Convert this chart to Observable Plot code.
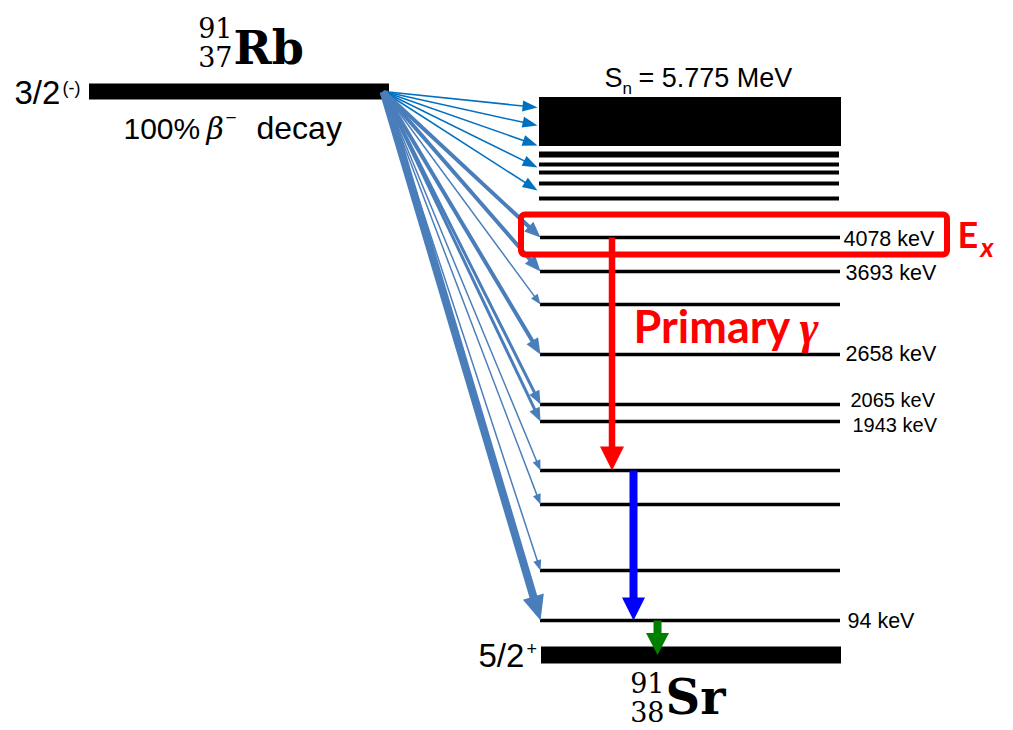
<!DOCTYPE html>
<html><head><meta charset="utf-8">
<script src="https://cdn.jsdelivr.net/npm/d3@7"></script>
<script src="https://cdn.jsdelivr.net/npm/@observablehq/plot@0.6"></script>
<style>html,body{margin:0;padding:0;background:#fff;overflow:hidden}</style>
</head><body><div id="chart"></div>
<script>
// ---------------- data ----------------
const parentA = "91", parentZ = "37", parentSymbol = "Rb", parentSpin = "3/2", parentParity = "(-)";
const daughterA = "91", daughterZ = "38", daughterSymbol = "Sr", daughterSpin = "5/2", daughterParity = "+";
const decayText = ["100%", "β", "−", "decay"];
const qValue = 5907;          // keV, parent level
const snEnergy = 5775;        // keV, neutron separation energy
const snText = ["S", "n", "= 5.775 MeV"];
const continuumLow = 5181;    // keV, bottom of dense block
const upperLevels = [5084, 4963, 4866, 4733, 4551];
const levels = [4078, 3693, 3281, 2658, 2065, 1943, 1488, 1172, 559, 94];
const labelledLevels = [4078, 3693, 2658, 2065, 1943, 94];
const levelLabels = ["4078 keV", "3693 keV", "2658 keV", "2065 keV", "1943 keV", "94 keV"];
const feedTargets = [5654, 5436, 5194, 4927, 4648, 4078, 3693, 3281, 2658, 2065, 1943, 1488, 1172, 559, 94];
const feedIntensity = [1.5, 1.5, 1.5, 1.5, 1.5, 4, 4, 1.5, 4, 3, 3, 1.5, 1.5, 1.5, 8];
const cascadeFrom = [4078, 1488, 94];
const cascadeTo = [1488, 94, 0];
const cascadeColor = ["#ff0000", "#0000ff", "#008000"];
const exLevel = 4078;
const exText = ["E", "x"];
const primaryText = ["Primary", "γ"];

// ---------------- layout (schematic) ----------------
const W = 1013, H = 730;
const yDomain = [0, 94, 1943, 2065, 2658, 3693, 4078, snEnergy, qValue];
const yRange = [654.5, 620, 421, 404, 354, 271, 237, 97, 91];
const xScale = d3.scaleLinear().domain([0, W]).range([0, W]);
const yScale = d3.scaleLinear().domain(yDomain).range(yRange);
const L = {parentX1: 89, parentX2: 389, levelX1: 540, levelX2: 840, feedX0: 383, labelX: 845,
  cascadeX: [611.5, 633, 657], cascadeW: [6.5, 8, 8], cascadeHead: [[24, 24], [23, 23], [22, 23]]};
const labelDx = {4078: -2, 3693: 0, 2658: 0, 2065: 5, 1943: 7, 94: 2};
const labelDy = {4078: 2, 3693: 2, 2658: 0, 2065: -4, 1943: 4, 94: 1};
const labelSize = {2065: 20, 1943: 20};

function headMarker(len, wid, back) {
  return (color) => {
    const ns = "http://www.w3.org/2000/svg";
    const m = document.createElementNS(ns, "marker");
    m.setAttribute("viewBox", `${back - len} ${-wid / 2} ${len} ${wid}`);
    m.setAttribute("markerUnits", "userSpaceOnUse");
    m.setAttribute("markerWidth", len);
    m.setAttribute("markerHeight", wid);
    m.setAttribute("refX", 0);
    m.setAttribute("refY", 0);
    m.setAttribute("orient", "auto");
    m.setAttribute("overflow", "visible");
    const p = document.createElementNS(ns, "path");
    p.setAttribute("d", `M${back},0L${back - len},${-wid / 2}L${back - len},${wid / 2}Z`);
    p.setAttribute("fill", color);
    p.setAttribute("stroke", "none");
    m.appendChild(p);
    return m;
  };
}
function arrowGeom(x1, e1, x2, e2, back) {
  const ax = xScale(x1), ay = yScale(e1), bx = xScale(x2), by = yScale(e2);
  const dx = bx - ax, dy = by - ay, len = Math.hypot(dx, dy);
  return {x1, y1: e1, x2: xScale.invert(bx - dx / len * back), y2: yScale.invert(by - dy / len * back)};
}
function arrowMark(x1, e1, x2, e2, w, color, len, wid) {
  const back = len * 0.5;
  return Plot.link([arrowGeom(x1, e1, x2, e2, back)], {
    x1: "x1", y1: "y1", x2: "x2", y2: "y2", stroke: color, strokeWidth: w,
    strokeLinecap: "butt", markerEnd: headMarker(len, wid, back)
  });
}

// β feeding arrows
const feedMarks = feedTargets.map((E, i) => {
  const w = feedIntensity[i];
  const upper = i < 5;
  const color = upper ? "#0070c0" : "#4a7ebb";
  const len = upper ? 15 : 7 + 2.25 * w;
  const wid = upper ? 11 : 5 + 2.1 * w;
  return arrowMark(L.feedX0, qValue, upper ? L.levelX1 - 3 : L.levelX1, E, w, color, len, wid);
});
// γ cascade
const cascadeMarks = cascadeFrom.map((E, i) =>
  arrowMark(L.cascadeX[i], E, L.cascadeX[i], cascadeTo[i], L.cascadeW[i], cascadeColor[i],
    L.cascadeHead[i][0], L.cascadeHead[i][1]));

const sans = "Liberation Sans, Arial, Helvetica, sans-serif";
const serif = "DejaVu Serif, serif";
const callibri = "Lato, Carlito, Calibri, sans-serif";
const txt = (s, o) => Plot.text([s], {text: (d) => d, lineAnchor: "bottom", textAnchor: "start", fill: "black", ...o});

// level labels (one mark each so each can carry its own offset)
const labelMarks = labelledLevels.map((E, i) =>
  Plot.text([E], {x: L.labelX, y: (d) => d, text: () => levelLabels[i], dx: labelDx[E], dy: labelDy[E],
    textAnchor: "start", lineAnchor: "middle", fontSize: labelSize[E] || 21.5, fontFamily: sans, fill: "black"}));

const chart = Plot.plot({
  width: W, height: H, margin: 0,
  x: {domain: [0, W], range: [0, W], axis: null},
  y: {type: "linear", domain: yDomain, range: yRange, axis: null},
  style: {background: "white"},
  marks: [
    // parent level
    Plot.ruleY([qValue], {x1: L.parentX1, x2: L.parentX2, strokeWidth: 16, stroke: "black"}),
    // dense block to Sn
    Plot.rect([{lo: continuumLow, hi: snEnergy}], {x1: L.levelX1 - 1, x2: L.levelX2 + 1, y1: "lo", y2: "hi", fill: "black"}),
    Plot.ruleY(upperLevels, {x1: L.levelX1 - 1, x2: L.levelX2 - 1, strokeWidth: (d, i) => (i === 0 ? 6 : 4), stroke: "black"}),
    // discrete levels
    Plot.ruleY(levels, {x1: L.levelX1, x2: L.levelX2, strokeWidth: 3.5, stroke: "black"}),
    // ground state
    Plot.ruleY([0], {x1: L.levelX1 + 1, x2: L.levelX2 + 1, strokeWidth: 17, stroke: "black"}),
    ...feedMarks,
    // Ex box
    Plot.rect([exLevel], {x1: 521, x2: 947, y1: (d) => d, y2: (d) => d, insetTop: -22.5, insetBottom: -17.5,
      fill: "none", stroke: "#ff0000", strokeWidth: 6, rx: 4}),
    ...cascadeMarks,
    ...labelMarks,
    // parent labels
    txt(parentSpin, {x: 14, y: qValue, dy: 12, fontSize: 33, fontFamily: sans}),
    txt(parentParity, {x: 62, y: qValue, dy: 2, fontSize: 18, fontFamily: sans}),
    txt(decayText[0], {x: 123, y: qValue, dy: 47, fontSize: 30, fontFamily: sans}),
    txt(decayText[1], {x: 206, y: qValue, dy: 47, fontSize: 30, fontFamily: serif, fontStyle: "italic"}),
    txt(decayText[2], {x: 225, y: qValue, dy: 32, fontSize: 19, fontFamily: sans}),
    txt(decayText[3], {x: 256, y: qValue, dy: 47, fontSize: 32, fontFamily: sans}),
    txt(parentA, {x: 232, y: qValue, dy: -54, fontSize: 27, fontFamily: serif, textAnchor: "end"}),
    txt(parentZ, {x: 232, y: qValue, dy: -25, fontSize: 27, fontFamily: serif, textAnchor: "end"}),
    txt(parentSymbol, {x: 233, y: qValue, dy: -28, fontSize: 46, fontFamily: serif, fontWeight: "bold"}),
    // Sn
    txt(snText[0], {x: 604, y: snEnergy, dy: -11, fontSize: 27, fontFamily: sans}),
    txt(snText[1], {x: 622, y: snEnergy, dy: -4, fontSize: 17, fontFamily: sans}),
    txt(snText[2], {x: 638, y: snEnergy, dy: -11, fontSize: 27, fontFamily: sans}),
    // Ex label
    txt(exText[0], {x: 957, y: exLevel, dy: 10, fontSize: 36, fontFamily: callibri, fontWeight: "bold", fill: "#ff0000"}),
    txt(exText[1], {x: 980, y: exLevel, dy: 19, fontSize: 27, fontFamily: callibri, fontWeight: "bold", fontStyle: "italic", fill: "#ff0000"}),
    // primary gamma label
    txt(primaryText[0], {x: 633, y: exLevel, dy: 105, fontSize: 45, fontFamily: callibri, fontWeight: "bold", fill: "#ff0000"}),
    txt(primaryText[1], {x: 799, y: exLevel, dy: 105, fontSize: 46, fontFamily: "Liberation Serif, serif", fontStyle: "italic", fontWeight: "bold", fill: "#ff0000"}),
    // daughter labels
    txt(daughterSpin, {x: 478, y: 0, dy: 12, fontSize: 33, fontFamily: sans}),
    txt(daughterParity, {x: 526, y: 0, dy: 0, fontSize: 18, fontFamily: sans}),
    txt(daughterA, {x: 664, y: 0, dy: 37.5, fontSize: 27, fontFamily: serif, textAnchor: "end"}),
    txt(daughterZ, {x: 664, y: 0, dy: 67, fontSize: 27, fontFamily: serif, textAnchor: "end"}),
    txt(daughterSymbol, {x: 665, y: 0, dy: 58.5, fontSize: 48, fontFamily: serif, fontWeight: "bold"})
  ]
});
document.getElementById("chart").appendChild(chart);
</script></body></html>
